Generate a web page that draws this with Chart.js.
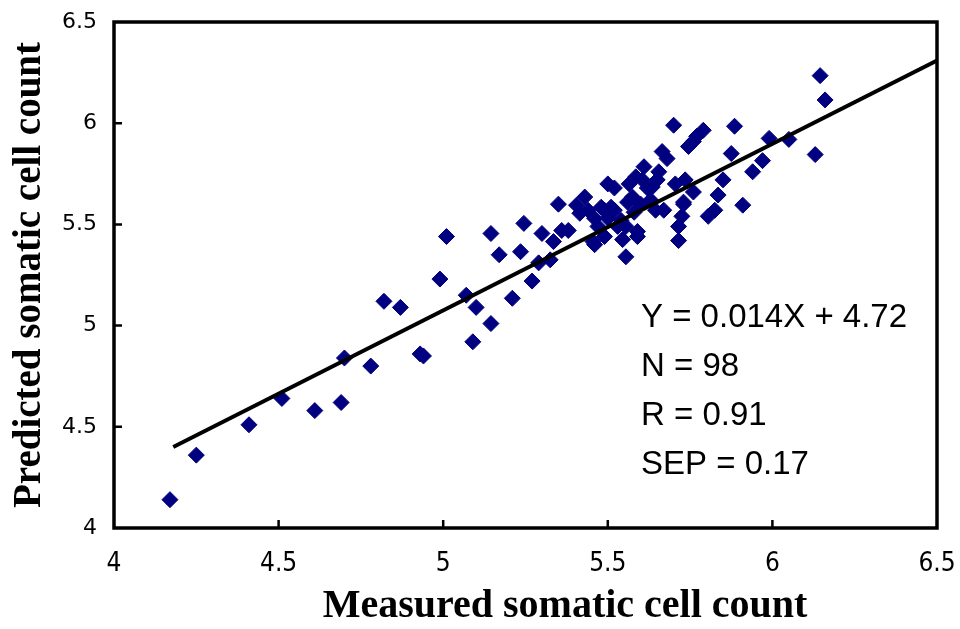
<!DOCTYPE html>
<html>
<head>
<meta charset="utf-8">
<script src="https://cdn.jsdelivr.net/npm/chart.js@4"></script>
<style>
body{margin:0;background:#fff;}
#wrap{width:960px;height:629px;}
</style>
</head>
<body>
<div id="wrap"><canvas id="scc"></canvas></div>
<script>
// measured vs predicted (log SCC)
const measured = [
4.17,4.25,4.41,4.51,4.61,4.69,4.70,4.78,4.82,4.87,
4.93,4.94,4.99,5.01,5.07,5.10,5.145,5.09,5.21,5.27,
5.145,5.17,5.245,5.235,5.30,5.29,5.325,5.335,5.35,5.36,
5.38,5.405,5.43,5.415,5.46,5.455,5.49,5.50,5.52,5.49,
5.52,5.555,5.565,5.575,5.545,5.555,5.59,5.61,5.605,5.635,
5.655,5.645,5.67,5.665,5.68,5.70,5.705,5.73,5.725,5.715,
5.715,5.745,5.76,5.735,5.76,6.145,6.16,6.13,6.05,5.99,
5.885,5.875,5.97,5.94,5.85,5.91,5.835,5.825,5.805,5.79,
5.77,5.73,5.59,5.48,5.51,5.47,5.46,5.585,5.53,5.60,
5.63,5.54,5.50,5.62,5.58,5.65,5.44,5.56
];
const predicted = [
4.14,4.36,4.51,4.64,4.58,4.62,4.84,4.80,5.12,5.09,
4.86,4.85,5.23,5.44,5.15,5.09,5.01,4.92,5.135,5.22,
5.455,5.35,5.505,5.365,5.455,5.31,5.325,5.415,5.60,5.47,
5.47,5.595,5.635,5.555,5.53,5.415,5.44,5.70,5.68,5.57,
5.57,5.49,5.70,5.635,5.425,5.34,5.44,5.785,5.72,5.685,
5.76,5.57,5.57,5.86,5.825,5.99,5.70,5.60,5.54,5.49,
5.42,5.885,5.91,5.72,5.66,6.235,6.115,5.845,5.92,5.925,
5.985,5.85,5.815,5.76,5.72,5.595,5.645,5.57,5.54,5.965,
5.935,5.61,5.465,5.585,5.585,5.49,5.40,5.735,5.49,5.60,
5.62,5.52,5.53,5.68,5.56,5.72,5.57,5.61
];
// fitted line end points
const fitX = [4.18, 6.5];
const fitY = [4.40, 6.31];

const axisMin = 4, axisMax = 6.5, axisStep = 0.5;
const xTitle = "Measured somatic cell count";
const yTitle = "Predicted somatic cell count";
const statLines = ["Y = 0.014X + 4.72", "N = 98", "R = 0.91", "SEP = 0.17"];

const pts = measured.map((x,i)=>({x:x, y:predicted[i]}));
const fit = fitX.map((x,i)=>({x:x, y:fitY[i]}));

const framePlugin = {
  id:"frame",
  afterDraw(chart){
    const ctx = chart.ctx, a = chart.chartArea;
    const xs = chart.scales.x, ys = chart.scales.y;
    ctx.save();
    ctx.strokeStyle = "#000";
    ctx.lineWidth = 3.5;
    ctx.strokeRect(a.left, a.top, a.right-a.left, a.bottom-a.top);
    // inward tick marks
    ctx.lineWidth = 2.5;
    ctx.beginPath();
    xs.ticks.forEach(t=>{
      const px = xs.getPixelForValue(t.value);
      if(px > a.left+2 && px < a.right-2){
        ctx.moveTo(px, a.bottom); ctx.lineTo(px, a.bottom-8);
      }
    });
    ys.ticks.forEach(t=>{
      const py = ys.getPixelForValue(t.value);
      if(py > a.top+2 && py < a.bottom-2){
        ctx.moveTo(a.left, py); ctx.lineTo(a.left+8, py);
      }
    });
    ctx.stroke();
    // stats text
    ctx.fillStyle = "#000";
    ctx.font = "33px 'Liberation Sans', Arial, sans-serif";
    ctx.textBaseline = "middle";
    ctx.textAlign = "left";
    statLines.forEach((s,i)=>{
      ctx.fillText(s, a.left+527, a.top+296+i*49);
    });
    // x axis title
    ctx.font = "bold 40px 'Liberation Serif', 'Times New Roman', serif";
    ctx.textAlign = "center";
    ctx.fillText(xTitle, 565, 607);
    ctx.restore();
  }
};

new Chart(document.getElementById("scc"), {
  type:"scatter",
  data:{
    datasets:[{
      type:"line",
      data:fit,
      borderColor:"#000",
      borderWidth:4,
      pointRadius:0,
      fill:false
    },{
      data:pts,
      pointStyle:"rectRot",
      pointRadius:8,
      pointBackgroundColor:"#000080",
      pointBorderColor:"#000080",
      pointBorderWidth:1
    }]
  },
  options:{
    responsive:true,
    maintainAspectRatio:false,
    animation:false,
    layout:{padding:{top:22,right:23,left:0,bottom:0}},
    plugins:{legend:{display:false},tooltip:{enabled:false}},
    scales:{
      x:{
        type:"linear",
        min:axisMin,max:axisMax,
        ticks:{stepSize:axisStep,padding:21,color:"#000",
          callback:v=>String(v),
          font:{family:"'Liberation Sans Narrow','DejaVu Sans Condensed',sans-serif",size:26}},
        grid:{display:true,drawOnChartArea:false,drawTicks:false},
        border:{display:false},
        afterFit(s){ s.height = 101; s.paddingLeft = 0; s.paddingRight = 0; }
      },
      y:{
        type:"linear",
        min:axisMin,max:axisMax,
        ticks:{stepSize:axisStep,padding:17,color:"#000",
          callback:v=>String(v),
          font:{family:"'DejaVu Sans',sans-serif",size:22}},
        grid:{display:true,drawOnChartArea:false,drawTicks:false},
        border:{display:false},
        title:{display:true,text:yTitle,color:"#000",padding:{top:7,bottom:0},
          font:{family:"'Liberation Serif','Times New Roman',serif",size:39,weight:"bold"}},
        afterFit(s){ s.width = 114; s.paddingTop = 0; s.paddingBottom = 0; }
      }
    }
  },
  plugins:[framePlugin]
});
</script>
</body>
</html>
